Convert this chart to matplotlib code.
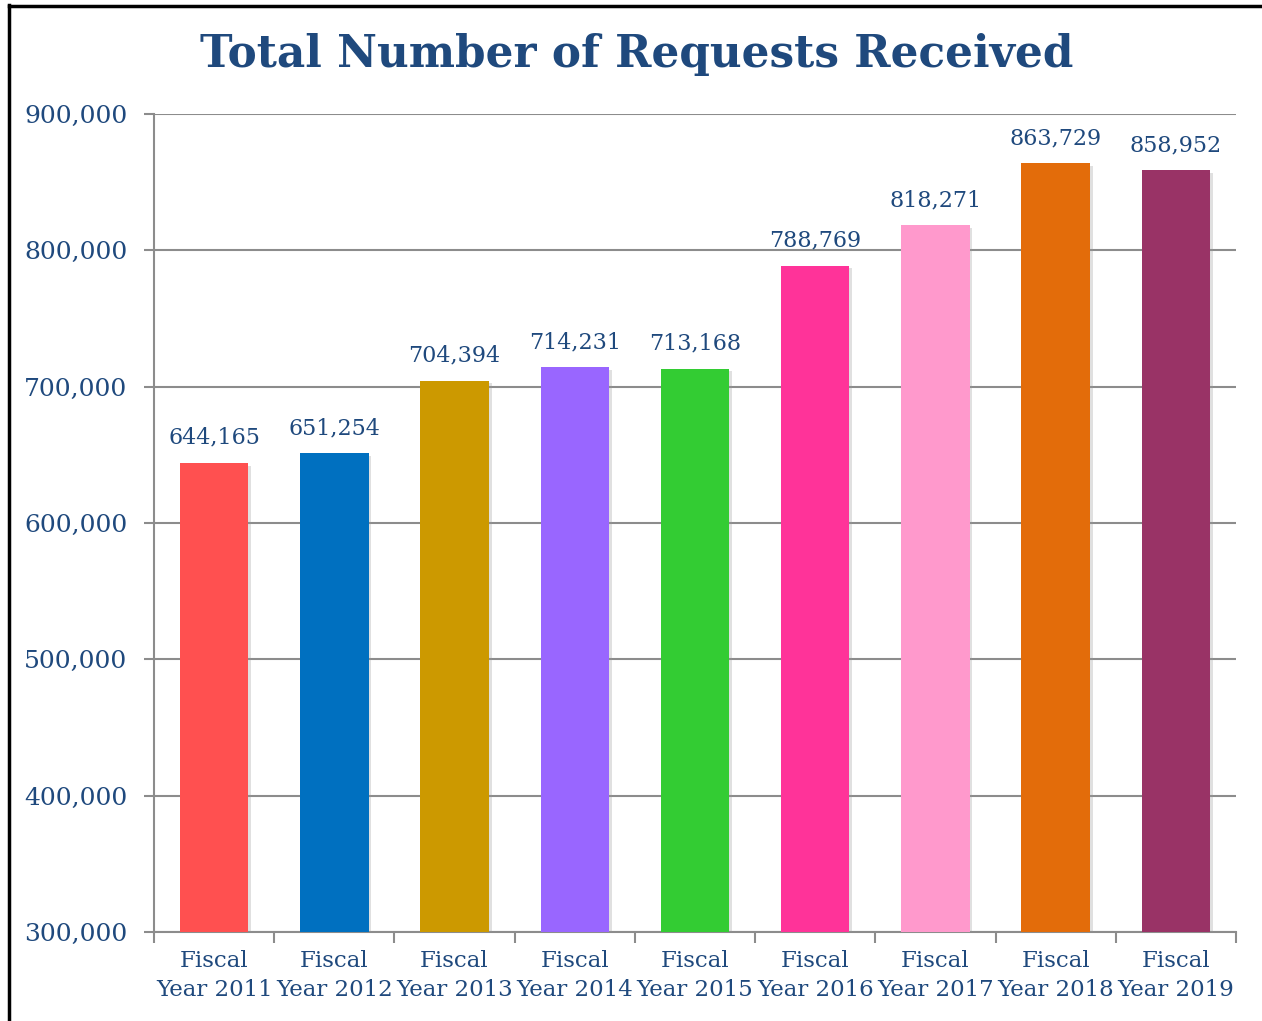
import matplotlib.pyplot as plt
import matplotlib.patheffects as pe
from matplotlib.lines import Line2D
from matplotlib.ticker import FuncFormatter

# data
years = ['2011', '2012', '2013', '2014', '2015', '2016', '2017', '2018', '2019']
requests = [644165, 651254, 704394, 714231, 713168, 788769, 818271, 863729, 858952]
bar_colors = ['#FF5050', '#0070C0', '#CC9900', '#9966FF', '#33CC33',
              '#FF3399', '#FF99CC', '#E36C0A', '#993366']

text_col = '#1F497D'
grid_col = '#8C8C8C'
plt.rcParams['font.family'] = ['DejaVu Serif']

fig = plt.figure(figsize=(12.62, 10.21), dpi=100)
ax = fig.add_axes([154 / 1262, 1 - 932 / 1021, (1236 - 154) / 1262, (932 - 114) / 1021])

x = list(range(len(years)))
bars = ax.bar(x, requests, width=0.57, color=bar_colors, zorder=3)
for b in bars:
    b.set_path_effects([pe.SimplePatchShadow(offset=(2, -2), shadow_rgbFace='#999999', alpha=0.3),
                        pe.Normal()])

for xi, v in zip(x, requests):
    ax.annotate(f'{v:,}', (xi, v), xytext=(0, 10), textcoords='offset points',
                ha='center', va='bottom', fontsize=16, color=text_col)

ax.set_ylim(300000, 900000)
ax.set_xlim(-0.5, len(years) - 0.5)
ax.set_yticks(range(300000, 900001, 100000))
ax.yaxis.set_major_formatter(FuncFormatter(lambda v, p: f'{int(v):,}'))
ax.yaxis.grid(True, color=grid_col, linewidth=1.5, zorder=0)
ax.set_axisbelow(True)

ax.set_xticks(x)
ax.set_xticklabels([f'Fiscal\nYear {y}' for y in years], fontsize=16.5, color=text_col,
                   linespacing=1.4)
ax.set_xticks([i - 0.5 for i in range(len(years) + 1)], minor=True)
ax.tick_params(axis='x', which='major', length=0, pad=13)
ax.tick_params(axis='x', which='minor', length=8, width=1.5, color=grid_col)
ax.tick_params(axis='y', length=7, width=1.5, color=grid_col, labelsize=18,
               labelcolor=text_col, pad=12)

for s in ['top', 'right']:
    ax.spines[s].set_visible(False)
for s in ['left', 'bottom']:
    ax.spines[s].set_color(grid_col)
    ax.spines[s].set_linewidth(1.5)

fig.text(637 / 1262, 1 - 54 / 1021, 'Total Number of Requests Received', ha='center',
         va='center', fontsize=31.5, fontweight='bold', color=text_col)

# outer frame (left and top edges visible)
fig.add_artist(Line2D([9 / 1262, 9 / 1262], [0, 1 - 5 / 1021], transform=fig.transFigure,
                      color='black', linewidth=2.5))
fig.add_artist(Line2D([9 / 1262, 1], [1 - 6 / 1021, 1 - 6 / 1021], transform=fig.transFigure,
                      color='black', linewidth=2.5))

fig.savefig('out.png', dpi=100)
